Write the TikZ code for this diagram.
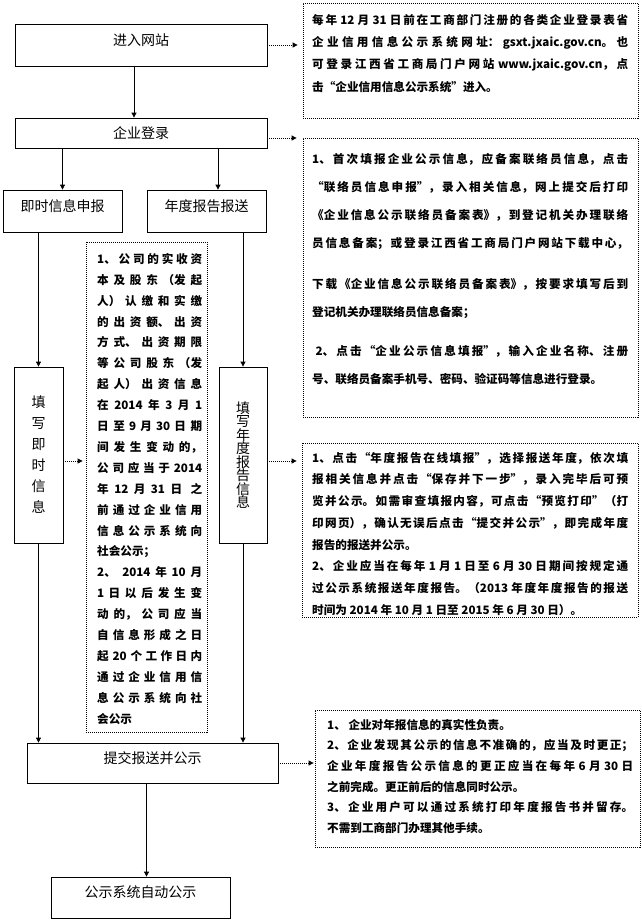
\documentclass[tikz,border=0pt]{standalone}
\usepackage{fontspec}
\setmainfont{Noto Sans CJK SC}
\XeTeXlinebreaklocale "zh"
\XeTeXlinebreakskip=0pt plus 4pt
\setlength{\parindent}{0pt}
\tolerance=10000
\usepackage{tikz}
\usetikzlibrary{calc, positioning, arrows.meta}

\begin{document}
\begin{tikzpicture}[x=1pt, y=-1pt, >={Triangle[length=5pt,width=5pt]},
    box/.style={draw, line width=0.8pt, inner sep=0pt, font=\fontsize{14}{17}\selectfont},
    lifted/.style={text depth=11pt},
    note/.style={draw, dash pattern=on 1pt off 1pt, line width=0.8pt, inner sep=0pt},
    notetext/.style={anchor=north west, align=justify, inner sep=0pt, text width=316pt,
      font=\bfseries\fontsize{11.6}{#1}\selectfont},
    flow/.style={->, line width=0.8pt},
    hint/.style={->, line width=0.8pt, dash pattern=on 1pt off 1pt}]
  \useasboundingbox (0,0) rectangle (642,922);

  % Main flow
  \node[box, lifted, minimum width=252pt, minimum height=42pt] (web) at (141,45) {进入网站};
  \node[box, minimum width=252pt, minimum height=30pt] (login) at (141,133) {企业登录};
  \node[box, lifted, minimum width=119pt, minimum height=42pt] (instant) at (62.5,211) {即时信息申报};
  \node[box, lifted, minimum width=119pt, minimum height=42pt] (annual) at (206.5,211) {年度报告报送};
  \node[box, minimum width=49pt, minimum height=176pt, align=center,
    font=\fontsize{14}{21}\selectfont] (fillinst) at (38.5,455) {填\\写\\即\\时\\信\\息};
  \node[box, minimum width=48pt, minimum height=176pt, align=center,
    font=\fontsize{14}{13.5}\selectfont] (fillann) at (243,455) {填\\写\\年\\度\\报\\告\\信\\息};
  \node[box, lifted, minimum width=251pt, minimum height=40pt] (submit) at (152.5,763) {提交报送并公示};
  \node[box, lifted, minimum width=179pt, minimum height=41pt] (auto) at (140.5,897.5) {公示系统自动公示};

  % Flow arrows
  \draw[flow] ([xshift=-7pt]web.south) -- ([xshift=-7pt]login.north);
  \draw[flow] (login.south -| instant.north) -- (instant.north);
  \coordinate (annin) at ([xshift=11.5pt]annual.north);
  \draw[flow] (annin |- login.south) -- (annin);
  \draw[flow] (instant.south -| fillinst.north) -- (fillinst.north);
  \draw[flow] (annual.south -| fillann.north) -- (fillann.north);
  \draw[flow] (fillinst.south) -- (fillinst.south |- submit.north);
  \draw[flow] (fillann.south) -- (fillann.south |- submit.north);
  \coordinate (mid) at ($(submit.south)!.5!(auto.north)$);
  \draw[flow] (submit.south -| mid) -- (auto.north -| mid);

  % Dotted notes
  \node[note, minimum width=335pt, minimum height=115pt] (note1) at (470.5,60.5) {};
  \node[note, minimum width=335pt, minimum height=279pt] (note2) at (470.5,277.5) {};
  \node[note, minimum width=121pt, minimum height=490pt] (memo) at (146.5,487) {};
  \node[note, minimum width=336pt, minimum height=174pt] (note3) at (470,530) {};
  \node[note, minimum width=325pt, minimum height=137pt] (note4) at (477.5,778.5) {};

  \node[notetext=22.3pt] (note1txt) at (312,14) {%
    每年 12 月 31 日前在工商部门注册的各类企业登录表省\linebreak
    企业信用信息公示系统网址：gsxt.jxaic.gov.cn。也\linebreak
    可登录江西省工商局门户网站 www.jxaic.gov.cn，点\linebreak
    击“企业信用信息公示系统”进入。};
  \node[notetext=28pt] (note2txt) at (312,153) {%
    1、首次填报企业公示信息，应备案联络员信息，点击\linebreak
    “联络员信息申报”，录入相关信息，网上提交后打印\linebreak
    《企业信息公示联络员备案表》，到登记机关办理联络\linebreak
    员信息备案；或登录江西省工商局门户网站下载中心，\vspace{13pt}\linebreak
    下载《企业信息公示联络员备案表》，按要求填写后到\linebreak
    登记机关办理联络员信息备案；\vspace{11pt}\par
    \ 2、点击“企业公示信息填报”，输入企业名称、注册\linebreak
    号、联络员备案手机号、密码、验证码等信息进行登录。};
  \node[notetext=20.9pt, text width=105pt] (memotxt) at (97,253) {%
    1、公司的实收资\linebreak
    本及股东（发起\linebreak
    人）认缴和实缴\linebreak
    的出资额、出资\linebreak
    方式、出资期限\linebreak
    等公司股东（发\linebreak
    起人）出资信息\linebreak
    在 2014 年 3 月 1\linebreak
    日至 9 月 30 日期\linebreak
    间发生变动的，\linebreak
    公司应当于 2014\linebreak
    年 12 月 31 日之\linebreak
    前通过企业信用\linebreak
    信息公示系统向\linebreak
    社会公示；\par
    2、2014 年 10 月\linebreak
    1 日以后发生变\linebreak
    动的，公司应当\linebreak
    自信息形成之日\linebreak
    起 20 个工作日内\linebreak
    通过企业信用信\linebreak
    息公示系统向社\linebreak
    会公示};
  \node[notetext=21.7pt] (note3txt) at (312,452) {%
    1、点击“年度报告在线填报”，选择报送年度，依次填\linebreak
    报相关信息并点击“保存并下一步”，录入完毕后可预\linebreak
    览并公示。如需审查填报内容，可点击“预览打印”（打\linebreak
    印网页），确认无误后点击“提交并公示”，即完成年度\linebreak
    报告的报送并公示。\par
    2、企业应当在每年 1 月 1 日至 6 月 30 日期间按规定通\linebreak
    过公示系统报送年度报告。（2013 年度年度报告的报送\linebreak
    时间为 2014 年 10 月 1 日至 2015 年 6 月 30 日）。};
  \node[notetext=20.6pt, text width=306pt] (note4txt) at (327,719) {%
    1、 企业对年报信息的真实性负责。\par
    2、企业发现其公示的信息不准确的，应当及时更正；\linebreak
    企业年度报告公示信息的更正应当在每年 6 月 30 日\linebreak
    之前完成。更正前后的信息同时公示。\par
    3、企业用户可以通过系统打印年度报告书并留存。\linebreak
    不需到工商部门办理其他手续。};

  % Hints to notes
  \draw[hint, shorten >=5pt] (web.east) -- (web.east -| note1.west);
  \draw[hint, shorten >=6pt] ([yshift=-5pt]login.east) -- ([yshift=-5pt]login.east -| note2.west);
  \draw[hint, shorten >=3pt] ([yshift=-6pt]fillinst.east) -- ([yshift=-6pt]fillinst.east -| memo.west);
  \draw[hint, shorten >=5pt] ([yshift=-6pt]fillann.east) -- ([yshift=-6pt]fillann.east -| note3.west);
  \draw[hint, shorten >=1pt] (submit.east) -- (submit.east -| note4.west);
\end{tikzpicture}
\end{document}
